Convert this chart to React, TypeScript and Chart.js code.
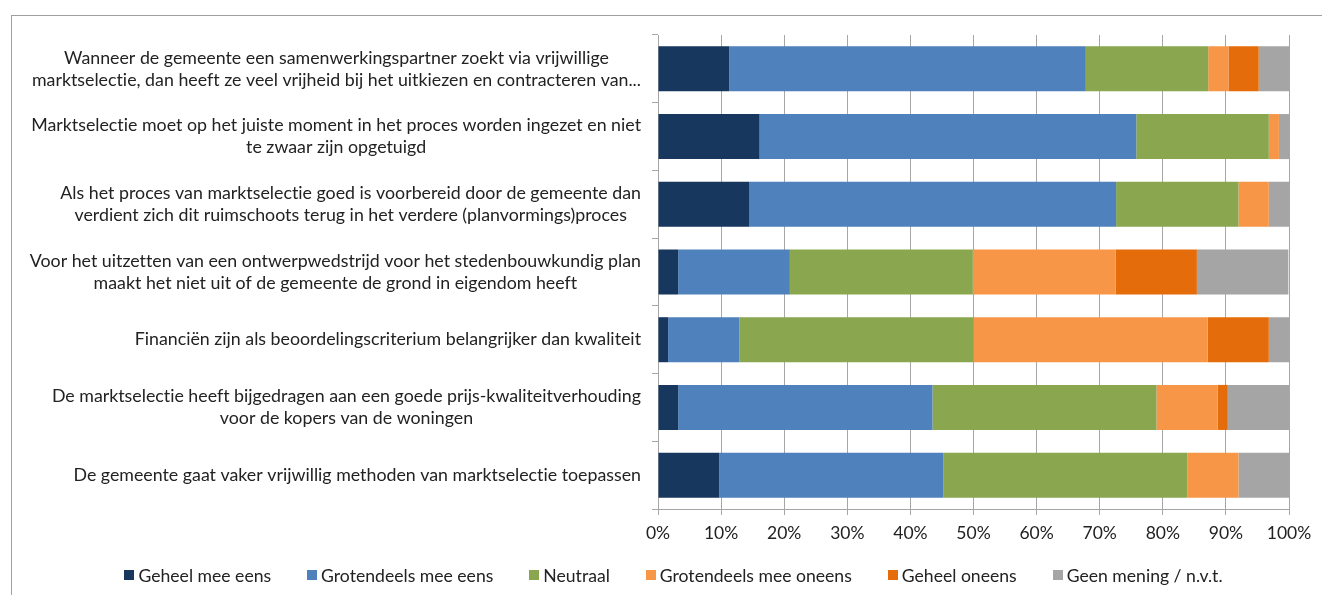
import React, { useEffect, useRef } from "react";
import { Chart, registerables } from "chart.js";

Chart.register(...registerables);

const categories: string[][] = [
  [
    "Wanneer de gemeente een samenwerkingspartner zoekt via vrijwillige",
    "marktselectie, dan heeft ze veel vrijheid bij het uitkiezen en contracteren van...",
  ],
  [
    "Marktselectie moet op het juiste moment in het proces worden ingezet en niet",
    "te zwaar zijn opgetuigd",
  ],
  [
    "Als het proces van marktselectie goed is voorbereid door de gemeente dan",
    "verdient zich dit ruimschoots terug in het verdere (planvormings)proces",
  ],
  [
    "Voor het uitzetten van een ontwerpwedstrijd voor het stedenbouwkundig plan",
    "maakt het niet uit of de gemeente de grond in eigendom heeft",
  ],
  ["Financiën zijn als beoordelingscriterium belangrijker dan kwaliteit"],
  [
    "De marktselectie heeft bijgedragen aan een goede prijs-kwaliteitverhouding",
    "voor de kopers van de woningen",
  ],
  ["De gemeente gaat vaker vrijwillig methoden van marktselectie toepassen"],
];

const seriesNames = [
  "Geheel mee eens",
  "Grotendeels mee eens",
  "Neutraal",
  "Grotendeels mee oneens",
  "Geheel oneens",
  "Geen mening / n.v.t.",
];

const geheelMeeEens = [11.3, 16.1, 14.5, 3.2, 1.6, 3.2, 9.7];
const grotendeelsMeeEens = [56.5, 59.7, 58.1, 17.7, 11.3, 40.3, 35.5];
const neutraal = [19.4, 21.0, 19.4, 29.0, 37.1, 35.5, 38.7];
const grotendeelsMeeOneens = [3.2, 1.6, 4.8, 22.6, 37.1, 9.7, 8.1];
const geheelOneens = [4.8, 0, 0, 12.9, 9.7, 1.6, 0];
const geenMening = [4.8, 1.6, 3.2, 14.5, 3.2, 9.7, 8.0];

const xTicks = [0, 10, 20, 30, 40, 50, 60, 70, 80, 90, 100];

const colors = ["#17375E", "#4F81BD", "#8AA64F", "#F79646", "#E46C0A", "#A5A5A5"];

const FONT = "Lato";
const TEXT_COLOR = "#222222";
const GRID_COLOR = "#A6A6A6";
const LABEL_SIZE = 17.8;
const LEGEND_SIZE = 17.6;
const TICK_SIZE = 17.5;

const yLabelPlugin = {
  id: "yLabels",
  afterDraw(chart: any) {
    const ctx = chart.ctx;
    const yScale = chart.scales.y;
    const right = chart.chartArea.left - 17;
    ctx.save();
    ctx.font = `${LABEL_SIZE}px ${FONT}`;
    try {
      (ctx as any).textRendering = "optimizeSpeed";
    } catch (e) {}
    ctx.fillStyle = TEXT_COLOR;
    ctx.textAlign = "center";
    ctx.textBaseline = "middle";
    const lineH = 22;
    (chart.data.labels as string[][]).forEach((lines, i) => {
      const cy = yScale.getPixelForValue(i);
      const maxW = Math.max(...lines.map((l) => ctx.measureText(l).width));
      const cx = right - maxW / 2;
      lines.forEach((l, j) => {
        ctx.fillText(l, cx, cy + (j - (lines.length - 1) / 2) * lineH);
      });
    });
    ctx.restore();
  },
};

const legendPlugin = {
  id: "customLegend",
  afterDraw(chart: any) {
    const ctx = chart.ctx;
    ctx.save();
    ctx.font = `${LEGEND_SIZE}px ${FONT}`;
    try {
      (ctx as any).textRendering = "optimizeSpeed";
    } catch (e) {}
    const box = 10;
    const gapBT = 4;
    const gap = 36;
    const items = chart.data.datasets.map((d: any) => ({
      label: d.label,
      color: d.backgroundColor,
      w: ctx.measureText(d.label).width,
    }));
    const total =
      items.reduce((s: number, it: any) => s + box + gapBT + it.w, 0) + gap * (items.length - 1);
    let x = 661.5 - total / 2;
    const y = 559;
    ctx.textBaseline = "middle";
    ctx.textAlign = "left";
    items.forEach((it: any) => {
      ctx.fillStyle = it.color;
      ctx.fillRect(Math.round(x), Math.round(y - box / 2), box, box);
      x += box + gapBT;
      ctx.fillStyle = TEXT_COLOR;
      ctx.fillText(it.label, x, y + 1);
      x += it.w + gap;
    });
    ctx.restore();
  },
};

export default function App() {
  const canvasRef = useRef<HTMLCanvasElement | null>(null);

  useEffect(() => {
    if (!canvasRef.current) return;
    const seriesData = [
      geheelMeeEens,
      grotendeelsMeeEens,
      neutraal,
      grotendeelsMeeOneens,
      geheelOneens,
      geenMening,
    ];
    const chart = new Chart(canvasRef.current, {
      type: "bar",
      data: {
        labels: categories as any,
        datasets: seriesNames.map((name, i) => ({
          label: name,
          data: seriesData[i],
          backgroundColor: colors[i],
          borderWidth: 0,
          categoryPercentage: 1,
          barPercentage: 0.665,
        })),
      },
      options: {
        indexAxis: "y",
        animation: false,
        responsive: true,
        maintainAspectRatio: false,
        layout: { padding: { left: 0, right: 33, top: 19, bottom: 46 } },
        plugins: {
          legend: { display: false },
          tooltip: { enabled: false },
        },
        scales: {
          x: {
            type: "linear",
            stacked: true,
            min: 0,
            max: 100,
            afterFit: (s: any) => {
              s.height = 40;
            },
            afterBuildTicks: (s: any) => {
              s.ticks = xTicks.map((v) => ({ value: v }));
            },
            ticks: {
              callback: (v: any) => `${v}%`,
              font: { family: FONT, size: TICK_SIZE },
              color: TEXT_COLOR,
              padding: 8,
              maxRotation: 0,
            },
            grid: { color: GRID_COLOR, tickLength: 6, lineWidth: 1 },
            border: { display: true, color: GRID_COLOR },
          },
          y: {
            type: "category",
            stacked: true,
            afterFit: (s: any) => {
              s.width = 646;
            },
            ticks: { display: false },
            grid: {
              display: true,
              drawOnChartArea: false,
              color: GRID_COLOR,
              tickLength: 6,
              offset: true,
            },
            border: { display: true, color: GRID_COLOR },
          },
        },
      },
      plugins: [yLabelPlugin, legendPlugin],
    });
    return () => chart.destroy();
  }, []);

  return (
    <>
      <div
        style={{
          position: "absolute",
          left: 11,
          top: 15,
          width: 1311,
          height: 580,
          boxSizing: "border-box",
          borderTop: "1px solid #A0A0A0",
          borderLeft: "1px solid #A0A0A0",
        }}
      />
      <div style={{ position: "absolute", left: 12, top: 16, width: 1310, height: 579 }}>
        <canvas ref={canvasRef} />
      </div>
    </>
  );
}
